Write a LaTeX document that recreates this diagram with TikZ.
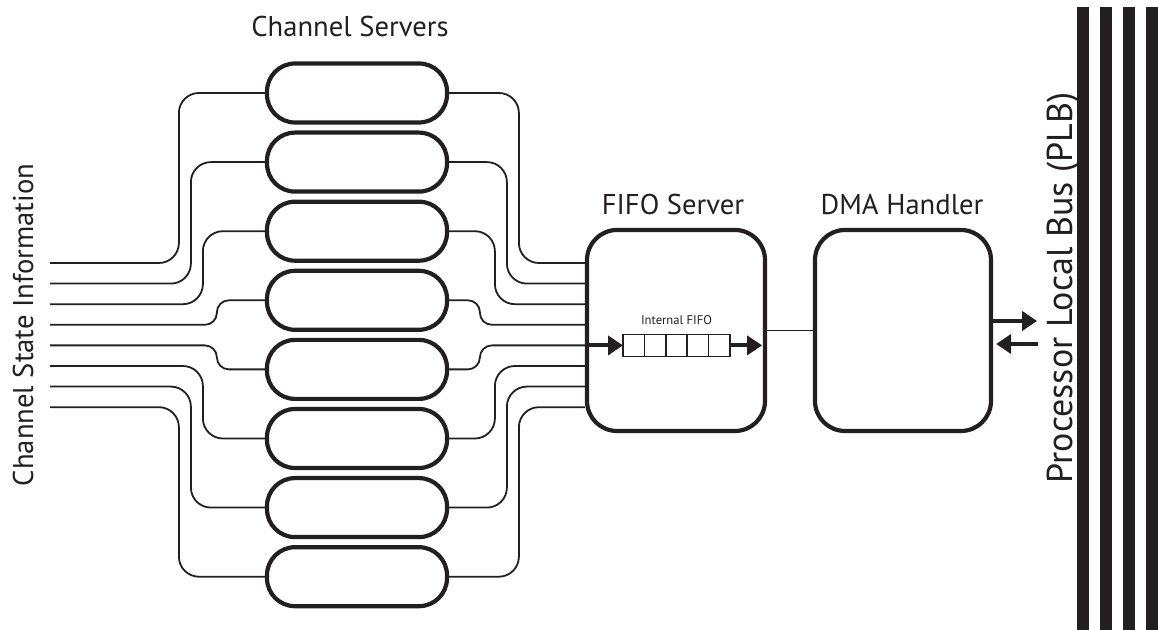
\documentclass[tikz,border=0pt]{standalone}
\usepackage{fontspec}
\setmainfont{PT Sans}
\usetikzlibrary{calc,positioning,arrows.meta}
\definecolor{ink}{RGB}{35,31,32}
\begin{document}
\begin{tikzpicture}[x=0.5pt,y=-0.5pt,
  server/.style={draw=ink,line width=2.1pt,rounded corners=14pt,minimum width=90pt,minimum height=29.5pt},
  block/.style={draw=ink,line width=2.1pt,rounded corners=15pt,minimum width=89pt,minimum height=100.5pt},
  wire/.style={draw=ink,line width=0.9pt,rounded corners=10pt},
  jog/.style={wire,rounded corners=6pt},
  cell/.style={draw=ink,line width=0.75pt,minimum width=10.7pt,minimum height=11pt,inner sep=0pt,outer sep=0pt},
  flow/.style={draw=ink,line width=2pt,-{Triangle[length=7.5pt,width=9.5pt]}},
  title/.style={font=\fontsize{14.3}{16}\selectfont,text=ink,anchor=base,inner sep=0pt}]
\useasboundingbox (0,0) rectangle (1158,630);

\foreach \i in {1,...,8}{
  \node[server] (cs\i) at (357,{93+69.1*(\i-1)}) {};
  \coordinate (in\i) at (50,{263+20.6*(\i-1)});
}
\node[block] (fifo) at (676,330.5) {};
\node[block,minimum width=88pt] (dma) at (903,330.5) {};

\foreach \i/\d in {1/86,2/74,3/62,6/62,7/74,8/86}
  \draw[wire] (in\i) -| ($(cs\i.west)+(-\d,0)$) -- (cs\i.west);
\foreach \i in {4,5}
  \draw[jog] (in\i) -| ($(cs\i.west)+(-48,0)$) -- (cs\i.west);

\foreach \i/\d in {1/66,2/78,3/90,6/90,7/78,8/66}
  \draw[wire] (cs\i.east) -| ($(fifo.west |- in\i)+(-\d,0)$) -- (fifo.west |- in\i);
\foreach \i in {4,5}
  \draw[jog] (cs\i.east) -| ($(fifo.west |- in\i)+(-105,0)$) -- (fifo.west |- in\i);

\node[cell] (q1) at (633.7,345.4) {};
\foreach \i [count=\j from 2] in {1,...,4}
  \node[cell,right=0pt of q\i] (q\j) {};
\node[font=\fontsize{6.3}{8}\selectfont,text=ink,above=1.5pt of q3] (fifolbl) {Internal FIFO};
\draw[flow] (fifo.west |- q1) -- (q1.west);
\draw[flow] (q5.east) -- ($(fifo.east |- q5)+(-5,0)$);

\draw[wire] (fifo.east) -- (dma.west);
\coordinate (tobus) at ($(dma.east)+(44,-9.5)$);
\coordinate (frombus) at ($(dma.east)+(45,13.5)$);
\draw[flow] (dma.east |- tobus) -- (tobus);
\draw[flow,shorten >=1.5pt] (frombus) -- (dma.east |- frombus);

\foreach \x in {1077,1100,1123,1146}
  \fill[ink] (\x,7) rectangle ++(12,623);

\node[title] (cstitle) at (350,37) {Channel Servers};
\node[title] (fifotitle) at (673,215) {FIFO Server};
\node[title] (dmatitle) at (902,215) {DMA Handler};
\node[title,rotate=90] (cslabel) at (33,325) {Channel State Information};
\node[title,rotate=90,font=\fontsize{18}{20}\selectfont] (plblabel) at (1072,288) {Processor Local Bus (PLB)};
\end{tikzpicture}
\end{document}
